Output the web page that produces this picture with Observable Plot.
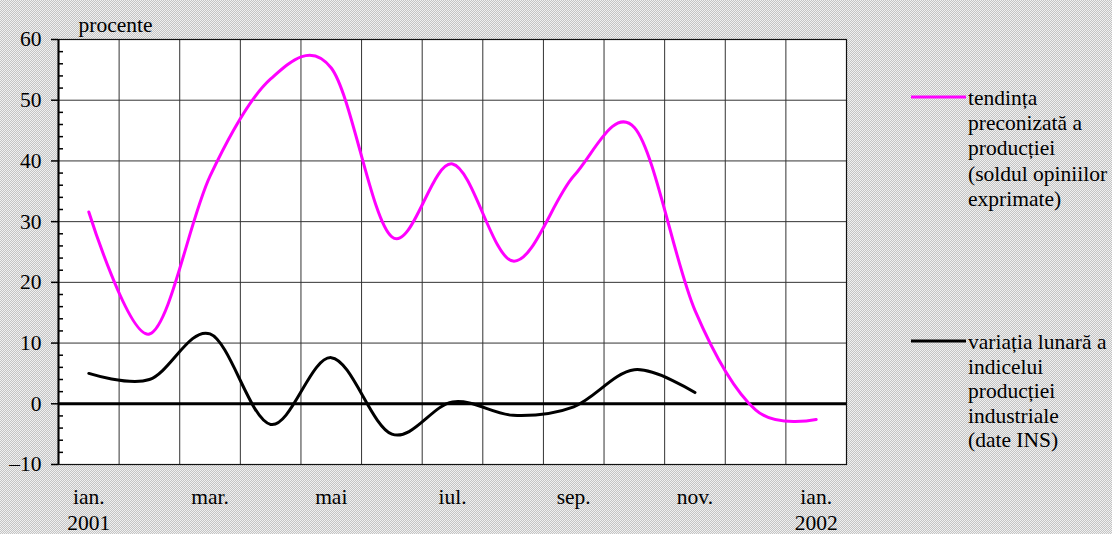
<!DOCTYPE html>
<html><head><meta charset="utf-8">
<script src="https://cdn.jsdelivr.net/npm/d3@7"></script>
<script src="https://cdn.jsdelivr.net/npm/@observablehq/plot@0.6"></script>
<style>
html,body{margin:0;padding:0;}
body{width:1112px;height:534px;overflow:hidden;background-color:#e0e0e0;background-image:repeating-conic-gradient(#c4c4c4 0 25%, #f0f0f0 0 50%);background-size:2px 2px;}
</style></head><body><div id="chart"></div>
<script>
// Months Jan 2001 .. Jan 2002
const months = ["ian.","feb.","mar.","apr.","mai","iun.","iul.","aug.","sep.","oct.","nov.","dec.","ian."];
const years = ["2001","","","","","","","","","","","","2002"];
const labelledMonths = [0, 2, 4, 6, 8, 10, 12];
// tendința preconizată a producției (soldul opiniilor exprimate)
const tendinta = [31.6, 11.5, 37.5, 53.5, 55.3, 27.5, 39.5, 23.5, 37.5, 45.5, 15.4, -1.0, -2.6];
// variația lunară a indicelui producției industriale (date INS)
const variatia = [5.0, 4.0, 11.5, -3.4, 7.6, -5.0, 0.3, -1.9, -0.5, 5.6, 1.85];
const yTicks = [-10, 0, 10, 20, 30, 40, 50, 60];
const yMinor = [-8, -6, -4, -2, 2, 4, 6, 8, 12, 14, 16, 18, 22, 24, 26, 28, 32, 34, 36, 38, 42, 44, 46, 48, 52, 54, 56, 58];
const legendPink = ["tendința", "preconizată a", "producției", "(soldul opiniilor", "exprimate)"];
const legendBlack = ["variația lunară a", "indicelui", "producției", "industriale", "(date INS)"];
const yLabel = "procente";

const tData = tendinta.map((v, i) => ({x: i + 0.5, y: v}));
const vData = variatia.map((v, i) => ({x: i + 0.5, y: v}));
const fmt = d => d < 0 ? "\u2013" + Math.abs(d) : String(d);
const xFmt = d => { const i = Math.round(d - 0.5); return years[i] ? months[i] + "\n" + years[i] : months[i]; };
const FONT = "'Liberation Serif', 'Times New Roman', serif";

const plot = Plot.plot({
  width: 1112, height: 534,
  marginLeft: 58, marginRight: 266, marginTop: 39, marginBottom: 70,
  style: {background: "transparent", fontFamily: FONT, fontSize: "21.5px", color: "#000"},
  x: {domain: [0, months.length]},
  y: {domain: [-10, 60]},
  marks: [
    Plot.frame({fill: "white", stroke: null}),
    Plot.ruleY(yTicks.filter(d => d !== 0), {stroke: "#333", strokeWidth: 1}),
    Plot.ruleX(d3.range(1, months.length), {stroke: "#333", strokeWidth: 1}),
    Plot.frame({stroke: "#111", strokeWidth: 1.2}),
    Plot.ruleX([0], {stroke: "#000", strokeWidth: 2}),
    Plot.ruleY([0], {stroke: "#000", strokeWidth: 3}),
    Plot.axisY({ticks: yTicks, tickSize: 7, tickPadding: 10, tickFormat: fmt, label: null, strokeWidth: 1.5}),
    Plot.axisY({ticks: yMinor, tickSize: -5, tickFormat: () => "", label: null, strokeWidth: 1.5}),
    Plot.axisX({ticks: labelledMonths.map(i => i + 0.5), tickSize: 0, tickPadding: 21, tickFormat: xFmt, label: null, lineHeight: 1.2}),
    Plot.line(tData, {x: "x", y: "y", stroke: "#ff00ff", strokeWidth: 3, curve: "cardinal"}),
    Plot.line(vData, {x: "x", y: "y", stroke: "#000", strokeWidth: 3, curve: "cardinal"}),
    Plot.text([yLabel], {frameAnchor: "top-left", dx: 20, dy: -8, lineAnchor: "bottom", textAnchor: "start"})
  ]
});
document.getElementById("chart").appendChild(plot);

// legend
const svg = d3.select(plot);
function legend(lines, color, y0, pitch) {
  const g = svg.append("g").attr("text-anchor", "start");
  g.append("line").attr("x1", 911).attr("x2", 966).attr("y1", y0).attr("y2", y0)
    .attr("stroke", color).attr("stroke-width", 3);
  g.selectAll("text").data(lines).join("text")
    .attr("x", 968).attr("y", (d, i) => y0 + 8 + i * pitch)
    .attr("fill", "#000").attr("font-size", 21.5)
    .attr("text-anchor", "start")
    .attr("font-family", FONT)
    .text(d => d);
}
legend(legendPink, "#ff00ff", 97, 25.2);
legend(legendBlack, "#000", 341, 24.6);
</script></body></html>
